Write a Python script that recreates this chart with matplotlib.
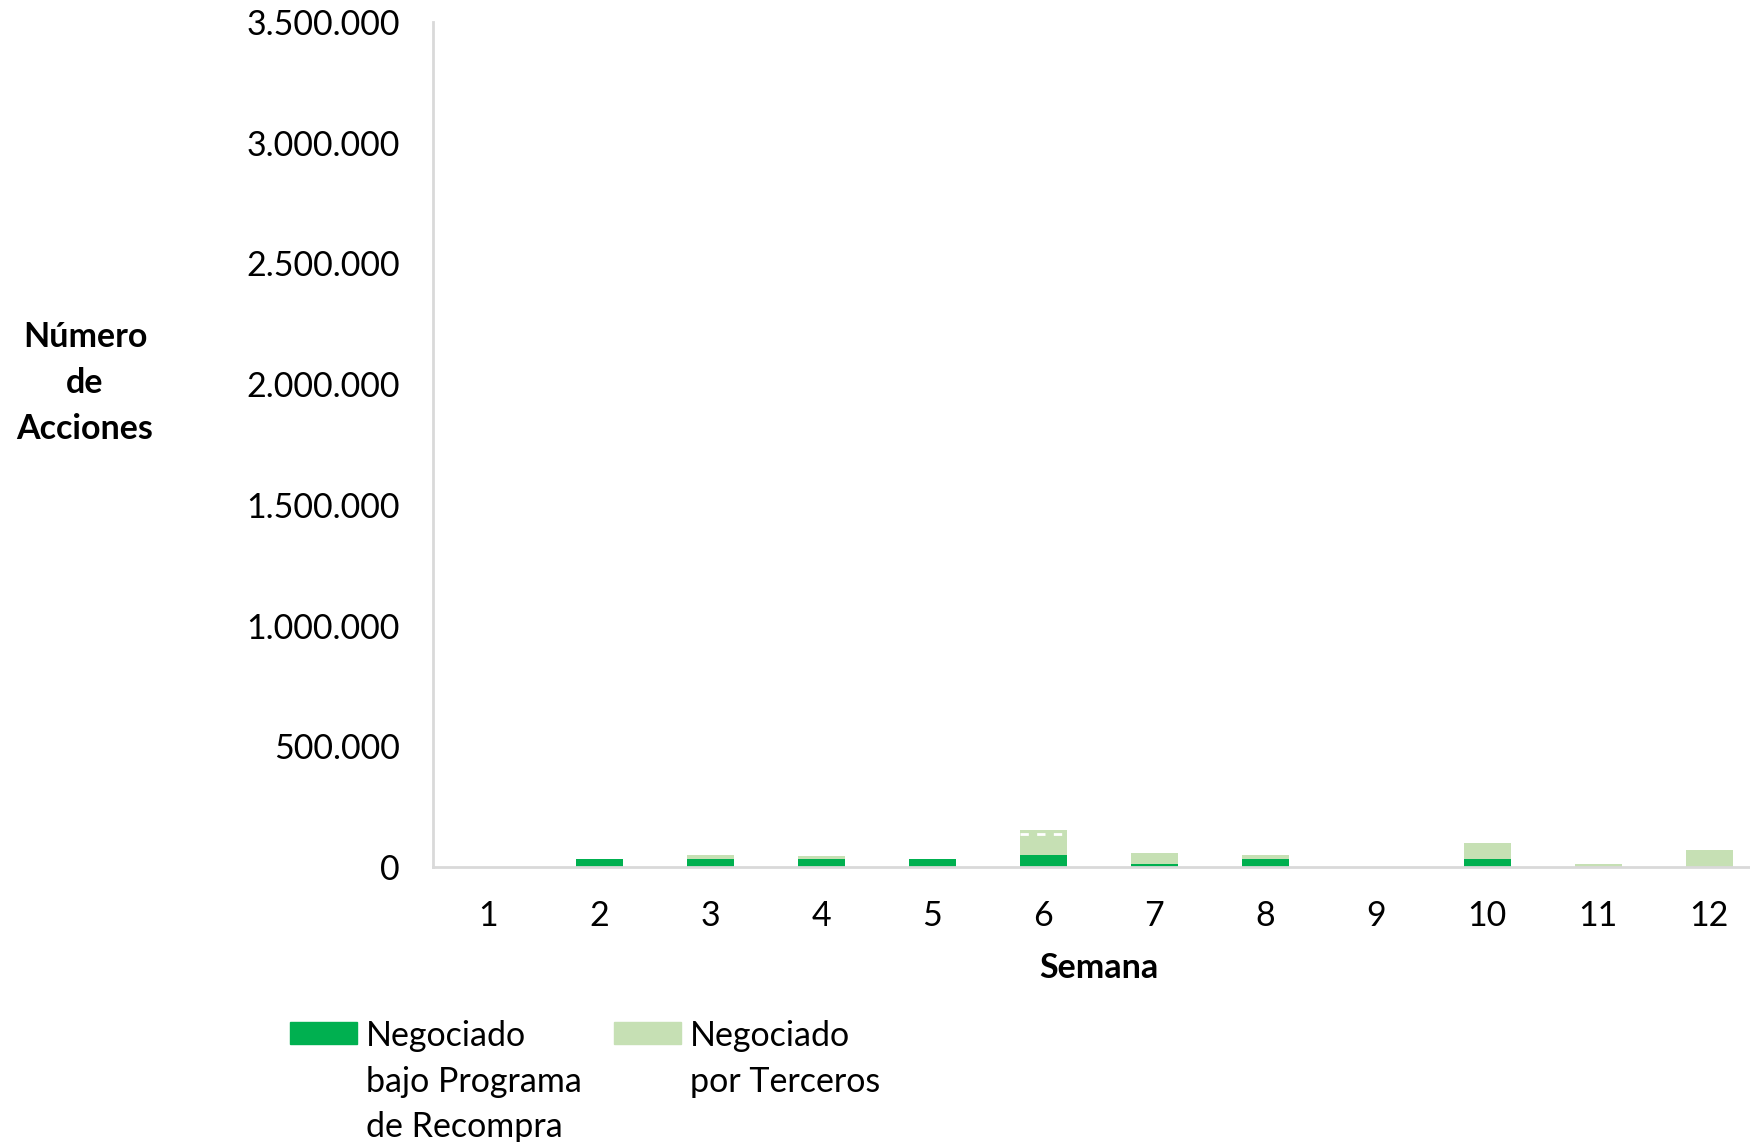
import numpy as np
import matplotlib
matplotlib.use("Agg")
from matplotlib import pyplot as plt
from matplotlib.patches import Rectangle
from matplotlib.ticker import FuncFormatter

plt.rcParams['font.family'] = ['Lato', 'DejaVu Sans']

# datos
semanas = ["1", "2", "3", "4", "5", "6", "7", "8", "9", "10", "11", "12"]
recompra = [0, 35000, 35000, 35000, 35000, 50000, 11000, 35000, 0, 35000, 0, 0]
terceros = [0, 0, 15000, 9000, 0, 103000, 46000, 15000, 0, 65000, 12000, 70000]
linea_semana6 = 135000  # linea blanca discontinua dentro de la barra 6

verde = "#00B050"
verde_claro = "#C6E0B4"
gris = "#D9D9D9"
fs = 24.5

fig = plt.figure(figsize=(17.5, 11.42), dpi=100)
ax = fig.add_axes([0.2474, 0.2408, 0.761, 0.7399])

x = np.arange(len(semanas))
ancho = 0.42
ax.bar(x, recompra, ancho, color=verde, zorder=2)
ax.bar(x, terceros, ancho, bottom=recompra, color=verde_claro, zorder=2)
i6 = semanas.index("6")
ax.hlines(linea_semana6, x[i6] - ancho / 2, x[i6] + ancho / 2, colors="white",
          linestyles=(0, (3, 3)), linewidth=2, zorder=3)

ax.set_xlim(-0.5, len(semanas) - 0.5)
ax.set_ylim(0, 3500000)
ax.set_yticks(np.arange(0, 3500001, 500000))
ax.yaxis.set_major_formatter(FuncFormatter(lambda v, p: f"{int(v):,}".replace(",", ".")))
ax.set_xticks(x)
ax.set_xticklabels(semanas)
ax.tick_params(axis="both", length=0, labelsize=fs)
ax.tick_params(axis="y", pad=24)
ax.tick_params(axis="x", pad=24)

for s in ["top", "right"]:
    ax.spines[s].set_visible(False)
for s in ["left", "bottom"]:
    ax.spines[s].set_color(gris)
    ax.spines[s].set_linewidth(2)

ax.set_xlabel("Semana", fontsize=fs, fontweight="bold", labelpad=14)
fig.text(85 / 1750, 1 - 383 / 1142, "Número\nde\nAcciones", fontsize=fs,
         fontweight="bold", ha="center", va="center", linespacing=1.55)

# leyenda manual
W, H = 1750, 1142
items = [(290, verde, "Negociado\nbajo Programa\nde Recompra"),
         (614, verde_claro, "Negociado\npor Terceros")]
for x0, c, txt in items:
    fig.add_artist(Rectangle((x0 / W, 1 - 1044 / H), 67 / W, 22 / H,
                             transform=fig.transFigure, color=c))
    fig.text((x0 + 76) / W, 1 - 1020 / H, txt, fontsize=fs, ha="left", va="top",
             linespacing=1.52, transform=fig.transFigure)

fig.savefig("out.png", dpi=100)
